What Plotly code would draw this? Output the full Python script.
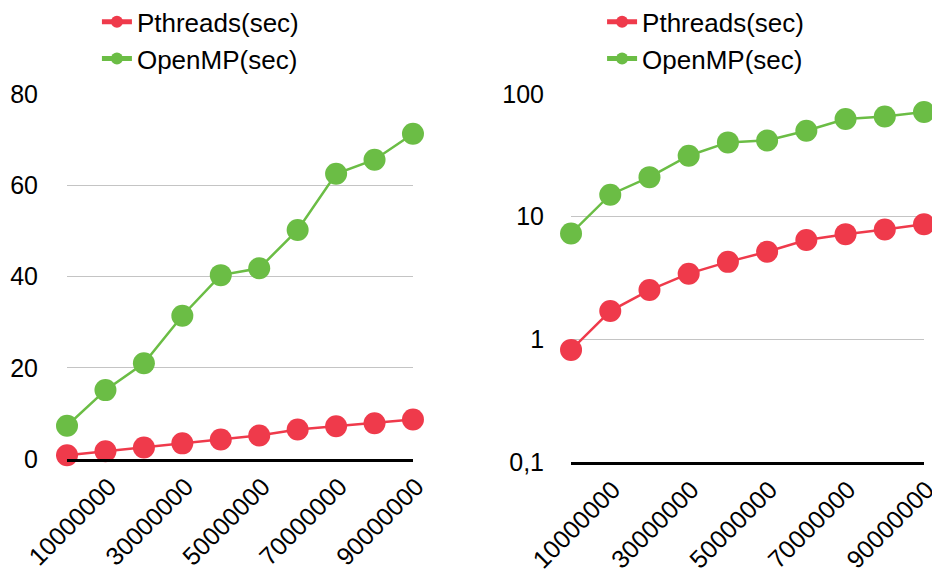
import plotly.graph_objects as go
from plotly.subplots import make_subplots

# Problem sizes (number of elements) and timings in seconds
sizes = [10000000, 20000000, 30000000, 40000000, 50000000,
         60000000, 70000000, 80000000, 90000000, 100000000]
pthreads_sec = [0.82, 1.70, 2.52, 3.43, 4.28, 5.17, 6.45, 7.20, 7.85, 8.68]
openmp_sec = [7.3, 15.1, 21.0, 31.4, 40.3, 41.8, 50.2, 62.5, 65.6, 71.3]

x_tick_vals = [10000000, 30000000, 50000000, 70000000, 90000000]
x_tick_text = [str(v) for v in x_tick_vals]

lin_ticks = [0, 20, 40, 60, 80]
log_tick_vals = [0.1, 1, 10, 100]
log_tick_text = ["0,1", "1", "10", "100"]

RED = "#EF3A4B"
GREEN = "#6BBD45"
FONT = "Liberation Sans"

fig = make_subplots(rows=1, cols=2)

series = [("Pthreads(sec)", pthreads_sec, RED), ("OpenMP(sec)", openmp_sec, GREEN)]
for col, legend_id in [(1, "legend"), (2, "legend2")]:
    for name, vals, color in series:
        fig.add_trace(
            go.Scatter(
                x=sizes, y=vals, name=name, mode="lines+markers",
                line=dict(color=color, width=2.5),
                marker=dict(color=color, size=22),
                cliponaxis=False, legend=legend_id,
            ),
            row=1, col=col,
        )

axis_font = dict(family=FONT, size=25, color="black")
x_common = dict(
    range=[sizes[0], sizes[-1]], tickmode="array", tickvals=x_tick_vals,
    ticktext=x_tick_text, tickangle=-45, tickfont=axis_font,
    showgrid=False, zeroline=False, showline=True, linecolor="black",
    linewidth=3, ticklabelshift=42, ticklabelstandoff=0, automargin=False,
    ticklabeloverflow="allow",
)
fig.update_xaxes(domain=[0.0719, 0.4431], **x_common, row=1, col=1)
fig.update_xaxes(domain=[0.6127, 0.9914], **x_common, row=1, col=2)

fig.update_yaxes(
    domain=[0.1947, 0.8351], range=[0, 80], tickmode="array",
    tickvals=lin_ticks, tickfont=axis_font, showgrid=True,
    gridcolor="#C4C4C4", gridwidth=1, zeroline=False, showline=False,
    ticklabelstandoff=28, automargin=False, row=1, col=1,
)
fig.update_yaxes(
    type="log", domain=[0.1895, 0.8351], range=[-1, 2], tickmode="array",
    tickvals=log_tick_vals, ticktext=log_tick_text, tickfont=axis_font,
    showgrid=True, gridcolor="#C4C4C4", gridwidth=1, zeroline=False,
    showline=False, ticklabelstandoff=26, automargin=False, row=1, col=2,
)

legend_style = dict(
    font=dict(family=FONT, size=26, color="black"), bgcolor="rgba(0,0,0,0)",
    itemsizing="constant", itemwidth=30, tracegroupgap=0, yanchor="top",
    xanchor="left", xref="paper", yref="paper", orientation="v",
)
fig.update_layout(
    width=932, height=570,
    margin=dict(l=0, r=0, t=0, b=0, autoexpand=False),
    plot_bgcolor="white", paper_bgcolor="white",
    font=dict(family=FONT),
    legend=dict(x=0.104, y=1.003, **legend_style),
    legend2=dict(x=0.646, y=1.003, **legend_style),
)

fig.write_html("out.html")
